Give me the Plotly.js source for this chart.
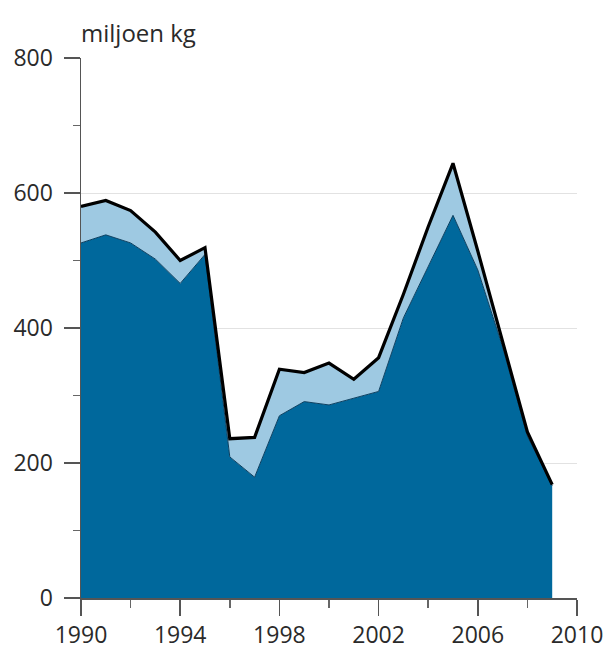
<!DOCTYPE html>
<html>
<head>
<meta charset="utf-8">
<script src="https://cdn.plot.ly/plotly-3.0.1.min.js"></script>
<style>html,body{margin:0;padding:0;background:#fff;}#chart{width:607px;height:650px;}</style>
</head>
<body>
<div id="chart"></div>
<script>
const years = [1990,1991,1992,1993,1994,1995,1996,1997,1998,1999,2000,2001,2002,2003,2004,2005,2006,2007,2008,2009];
const darkPart = [526,538,526,502,466,509,209,179,270,291,286,296,306,415,490,567,486,372,240,166];
const lightPart = [54,51,48,40,34,10,27,59,69,43,62,28,50,35,60,77,28,8,6,2];
const xTicks = [1990,1994,1998,2002,2006,2010];
const yTicks = [0,200,400,600,800];
const yTitle = 'miljoen kg';

const FONT = 'Open Sans, sans-serif';
const traces = [
  {x: years, y: darkPart, type: 'scatter', mode: 'lines', stackgroup: 'one',
   fillcolor: '#00689c', line: {color: '#0b3f60', width: 1}, hoverinfo: 'x+y'},
  {x: years, y: lightPart, type: 'scatter', mode: 'lines', stackgroup: 'one',
   fillcolor: '#9ec9e2', line: {color: '#000000', width: 3.2}, hoverinfo: 'x+y'}
];
const layout = {
  width: 607, height: 650,
  margin: {l: 81, r: 30, t: 58, b: 52},
  paper_bgcolor: '#ffffff', plot_bgcolor: '#ffffff',
  showlegend: false,
  font: {family: FONT, size: 23, color: '#2a2a2a'},
  xaxis: {
    range: [1990, 2010], tickvals: xTicks, ticktext: xTicks.map(String),
    showgrid: false, zeroline: false, showline: true, linecolor: '#555', linewidth: 1.5,
    ticks: 'outside', ticklen: 16, tickwidth: 1.5, tickcolor: '#555',
    minor: {tickvals: [1992,1996,2000,2004,2008], ticks: 'outside', ticklen: 8, tickwidth: 1.5, tickcolor: '#666', showgrid: false},
    tickfont: {family: FONT, size: 23, color: '#2a2a2a'}
  },
  yaxis: {
    range: [0, 800], tickvals: yTicks, ticktext: yTicks.map(String),
    showgrid: true, gridcolor: '#e2e2e2', gridwidth: 1,
    zeroline: false, showline: true, linecolor: '#555', linewidth: 1.5,
    ticks: 'outside', ticklen: 16, tickwidth: 1.5, tickcolor: '#555',
    minor: {tickvals: [100,300,500,700], ticks: 'outside', ticklen: 7, tickwidth: 1.5, tickcolor: '#666', showgrid: false},
    ticklabelstandoff: 6,
    tickfont: {family: FONT, size: 23, color: '#2a2a2a'}
  },
  annotations: [{
    text: yTitle, xref: 'paper', yref: 'paper', x: 0, y: 1,
    xanchor: 'left', yanchor: 'bottom', yshift: 7, xshift: -2, showarrow: false,
    font: {family: FONT, size: 24, color: '#2a2a2a'}
  }]
};
Plotly.newPlot('chart', traces, layout, {displayModeBar: false, staticPlot: true});
</script>
</body>
</html>
